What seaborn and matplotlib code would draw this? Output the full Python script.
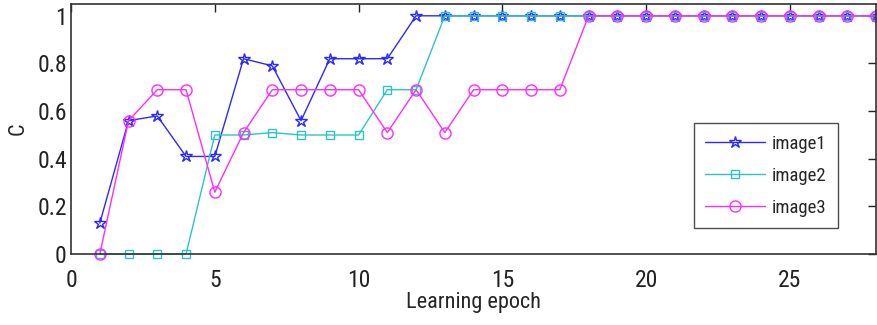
import numpy as np
import pandas as pd
import matplotlib
matplotlib.use('Agg')
import matplotlib.pyplot as plt
from matplotlib import font_manager as fm
import seaborn as sns

epochs = list(range(1, 29))
image1 = [0.13, 0.56, 0.58, 0.41, 0.41, 0.82, 0.79, 0.56, 0.82, 0.82, 0.82] + [1.0] * 17
image2 = [0.0, 0.0, 0.0, 0.0, 0.50, 0.50, 0.51, 0.50, 0.50, 0.50, 0.69, 0.69] + [1.0] * 16
image3 = [0.0, 0.56, 0.69, 0.69, 0.26, 0.51, 0.69, 0.69, 0.69, 0.69, 0.51, 0.69,
          0.51, 0.69, 0.69, 0.69, 0.69] + [1.0] * 11

series = {'image1': image1, 'image2': image2, 'image3': image3}
colors = {'image1': '#2a2aff', 'image2': '#2ec4c4', 'image3': '#ff2cff'}
markers = {'image1': '*', 'image2': 's', 'image3': 'o'}
msize = {'image1': 9, 'image2': 6, 'image3': 8}

sns.set_style('white')
have = {f.name for f in fm.fontManager.ttflist}
narrow = [n for n in ['Liberation Sans Narrow', 'Arimo Narrow', 'Roboto Condensed',
                      'Archivo Narrow', 'PT Sans Narrow'] if n in have]
plt.rcParams['font.family'] = narrow[:1] + ['Liberation Sans', 'DejaVu Sans']

fig = plt.figure(figsize=(8.77, 3.25), dpi=100)
ax = fig.add_axes([0.081, 0.218, 0.918, 0.77])

for name, vals in series.items():
    df = pd.DataFrame({'epoch': epochs, 'C': vals})
    sns.lineplot(data=df, x='epoch', y='C', ax=ax, color=colors[name], label=name,
                 marker=markers[name], markersize=msize[name], markerfacecolor='none',
                 markeredgecolor=colors[name], markeredgewidth=1.0, linewidth=1.0,
                 clip_on=False)

ax.set_xlim(0, 28)
ax.set_ylim(0, 1.05)
ax.set_xticks([0, 5, 10, 15, 20, 25])
ax.set_yticks([0, 0.2, 0.4, 0.6, 0.8, 1])
ax.set_yticklabels(['0', '0.2', '0.4', '0.6', '0.8', '1'])
ax.tick_params(direction='in', length=6, width=1, top=True, right=True,
               labelsize=17, colors='#222222')
ax.tick_params(axis='x', pad=11)
ax.tick_params(axis='y', pad=3)
for s in ax.spines.values():
    s.set_color('#333333')
    s.set_linewidth(1.2)
ax.set_xlabel('Learning epoch', fontsize=16, labelpad=0)
ax.set_ylabel('C', fontsize=16, labelpad=6)

leg = ax.legend(loc='lower left', bbox_to_anchor=(0.774, 0.104), fontsize=13.5,
                frameon=True, fancybox=False, edgecolor='#222222', handlelength=3.2,
                borderpad=0.6, labelspacing=0.75, handletextpad=0.35, borderaxespad=0)
leg.get_frame().set_linewidth(1.0)

fig.savefig('out.png', dpi=100)
